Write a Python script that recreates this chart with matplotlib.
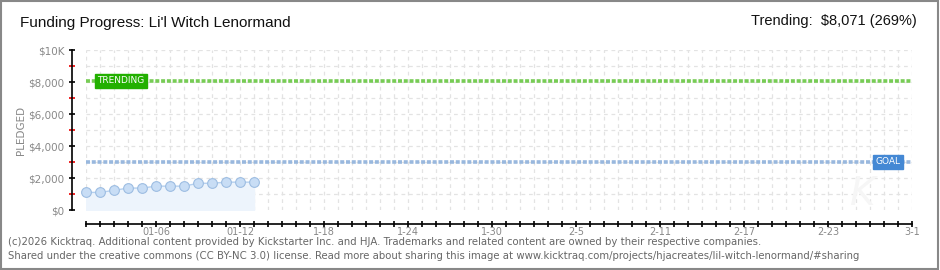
import matplotlib
matplotlib.use('Agg')
import matplotlib.pyplot as plt
from matplotlib.patches import Rectangle
import pandas as pd

# pledged totals per day
dates = ['2026-01-01', '2026-01-02', '2026-01-03', '2026-01-04', '2026-01-05', '2026-01-06', '2026-01-07',
         '2026-01-08', '2026-01-09', '2026-01-10', '2026-01-11', '2026-01-12', '2026-01-13']
pledged = [1100, 1100, 1230, 1370, 1370, 1490, 1490, 1490, 1670, 1670, 1740, 1740, 1740]
goal = 3000
trending = 8071

start_date = '2026-01-01'
end_date = '2026-03-01'
tick_dates = ['2026-01-06', '2026-01-12', '2026-01-18', '2026-01-24', '2026-01-30',
              '2026-02-05', '2026-02-11', '2026-02-17', '2026-02-23', '2026-03-01']
tick_labels = ['01-06', '01-12', '1-18', '1-24', '1-30', '2-5', '2-11', '2-17', '2-23', '3-1']
y_ticks = [0, 2000, 4000, 6000, 8000, 10000]
y_labels = ['$0', '$2,000', '$4,000', '$6,000', '$8,000', '$10K']

narrow = ['Liberation Sans', 'DejaVu Sans']

t0 = pd.Timestamp(start_date)
xs = [(pd.Timestamp(d) - t0).days for d in dates]
x_end = (pd.Timestamp(end_date) - t0).days
xt = [(pd.Timestamp(d) - t0).days for d in tick_dates]

fig = plt.figure(figsize=(9.4, 2.7), dpi=100)
fig.patches.append(Rectangle((0.001, 0.002), 0.997, 0.994, transform=fig.transFigure,
                             fill=False, edgecolor='#888888', linewidth=1.5))
ax = fig.add_axes([86 / 940, 60 / 270, 826 / 940, 160 / 270])
ax.set_xlim(0, x_end)
ax.set_ylim(0, 10000)

# grid
for d in range(0, x_end + 1):
    ax.axvline(d, color='#e3e3e3', lw=0.9, ls=(0, (3, 3)), zorder=0)
for v in range(1000, 10001, 1000):
    ax.axhline(v, color='#e3e3e3', lw=0.9, ls=(0, (3, 3)), zorder=0)

# watermark
ax.text(x_end - 3.5, 1000, 'K', fontsize=28, color='#f6f6f6', fontstyle='italic',
        ha='center', va='center', zorder=0)

# trend / goal lines
ax.axhline(trending, color='#77cc55', lw=2.6, ls=(0, (1.1, 0.5)), zorder=2)
ax.axhline(goal, color='#99b8de', lw=2.6, ls=(0, (1.1, 0.5)), zorder=2)
ax.text(0.8, trending, 'TRENDING', fontsize=6.5, color='white', family='DejaVu Sans',
        ha='left', va='center', zorder=5,
        bbox=dict(boxstyle='square,pad=0.25', fc='#22b000', ec='#22b000'))
ax.text(56.4, goal, 'GOAL', fontsize=6.5, color='white', family='DejaVu Sans',
        ha='left', va='center', zorder=5,
        bbox=dict(boxstyle='square,pad=0.25', fc='#4488d4', ec='#4488d4'))

# pledged series
ax.fill_between(xs, 0, pledged, color='#edf4fc', zorder=1)
ax.plot(xs, pledged, color='#b5d0ef', lw=1, marker='o', markersize=7, clip_on=False,
        markerfacecolor='#c8ddf5', markeredgecolor='#9dbde2', markeredgewidth=0.8, zorder=3)

# axes styling
for s in ['top', 'right']:
    ax.spines[s].set_visible(False)
ax.spines['left'].set_position(('outward', 10))
ax.spines['bottom'].set_position(('outward', 10))
ax.spines['left'].set_linewidth(1.2)
ax.spines['bottom'].set_linewidth(1.2)

ax.set_yticks(y_ticks)
ax.set_yticklabels(y_labels)
ax.set_yticks(range(1000, 10000, 2000), minor=True)
ax.tick_params(axis='y', which='major', direction='inout', length=5, width=1.2,
               labelsize=7.5, labelcolor='#888888', pad=3)
ax.tick_params(axis='y', which='minor', direction='inout', length=4, width=1.2, color='#ee0000')

ax.set_xticks(range(0, x_end + 1), minor=True)
ax.set_xticks(xt)
ax.set_xticklabels(tick_labels)
ax.tick_params(axis='x', which='both', direction='inout', length=4, width=1.2,
               labelsize=7, labelcolor='#888888', pad=0)

fig.text(21 / 940, 1 - 130 / 270, 'PLEDGED', rotation=90, fontsize=7.5, color='#888888',
         ha='center', va='center')

fig.text(20 / 940, 1 - 23 / 270, "Funding Progress: Li'l Witch Lenormand", family=narrow,
         fontsize=11, color='#111111', ha='left', va='center')
fig.text(917 / 940, 1 - 21 / 270, r'Trending:  \$8,071 (269%)', family=narrow,
         fontsize=10.5, color='#111111', ha='right', va='center')

fig.text(8 / 940, 1 - 242 / 270,
         '(c)2026 Kicktraq. Additional content provided by Kickstarter Inc. and HJA. '
         'Trademarks and related content are owned by their respective companies.',
         fontsize=7.3, color='#666666', ha='left', va='center')
fig.text(8 / 940, 1 - 256 / 270,
         'Shared under the creative commons (CC BY-NC 3.0) license. Read more about sharing this image at '
         'www.kicktraq.com/projects/hjacreates/lil-witch-lenormand/#sharing',
         fontsize=7.3, color='#666666', ha='left', va='center')

fig.savefig('out.png', dpi=100)
